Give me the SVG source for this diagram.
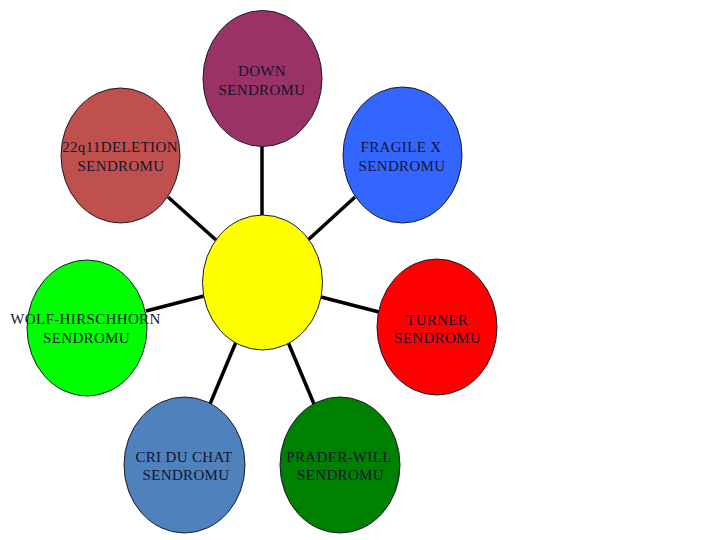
<svg xmlns="http://www.w3.org/2000/svg" width="720" height="540" viewBox="0 0 720 540">
<style>
.n{stroke:#1a1a2a;stroke-width:1}
.t{font-family:"Liberation Serif","Times New Roman",serif;font-size:15px;letter-spacing:0.35px;fill:#141433;text-anchor:middle}
.c line{stroke:#000;stroke-width:3.5;stroke-linecap:butt}
</style>
<rect width="720" height="540" fill="#fff"/>
<g id="connectors" class="c">
<line x1="262" y1="146" x2="262" y2="216"/>
<line x1="168" y1="197" x2="216" y2="240"/>
<line x1="355" y1="197" x2="308" y2="240"/>
<line x1="146" y1="311" x2="204" y2="296"/>
<line x1="321" y1="297" x2="379" y2="312"/>
<line x1="236" y1="342" x2="210" y2="404"/>
<line x1="288" y1="342" x2="314" y2="404"/>
</g>
<g id="center"><ellipse class="n" cx="262.5" cy="282.5" rx="60" ry="67.5" fill="#FFFF00"/></g>
<g id="down"><ellipse class="n" cx="262.5" cy="78.5" rx="59.5" ry="68" fill="#993366"/>
<text class="t" x="262" y="76">DOWN</text><text class="t" x="262" y="95">SENDROMU</text></g>
<g id="deletion22q11"><ellipse class="n" cx="120.5" cy="155.5" rx="59.5" ry="67.5" fill="#C0504D"/>
<text class="t" x="120" y="152">22q11DELETION</text><text class="t" x="121" y="171">SENDROMU</text></g>
<g id="fragilex"><ellipse class="n" cx="402.5" cy="155" rx="59.5" ry="68" fill="#3366FF"/>
<text class="t" x="401" y="152">FRAGILE X</text><text class="t" x="402" y="171">SENDROMU</text></g>
<g id="wolf"><ellipse class="n" cx="87" cy="328" rx="60" ry="68" fill="#00FF00"/>
<text class="t" x="85.5" y="324">WOLF-HIRSCHHORN</text><text class="t" x="86.5" y="343">SENDROMU</text></g>
<g id="turner"><ellipse class="n" cx="437" cy="327" rx="60" ry="68" fill="#FF0000"/>
<text class="t" x="437" y="325">TURNER</text><text class="t" x="437.5" y="343">SENDROMU</text></g>
<g id="criduchat"><ellipse class="n" cx="184.5" cy="465" rx="60.5" ry="68" fill="#4F81BD"/>
<text class="t" x="184" y="462">CRI DU CHAT</text><text class="t" x="186" y="480">SENDROMU</text></g>
<g id="praderwill"><ellipse class="n" cx="340" cy="465" rx="60" ry="68" fill="#008000"/>
<text class="t" x="339" y="462">PRADER-WILL</text><text class="t" x="340.5" y="480">SENDROMU</text></g>
</svg>
